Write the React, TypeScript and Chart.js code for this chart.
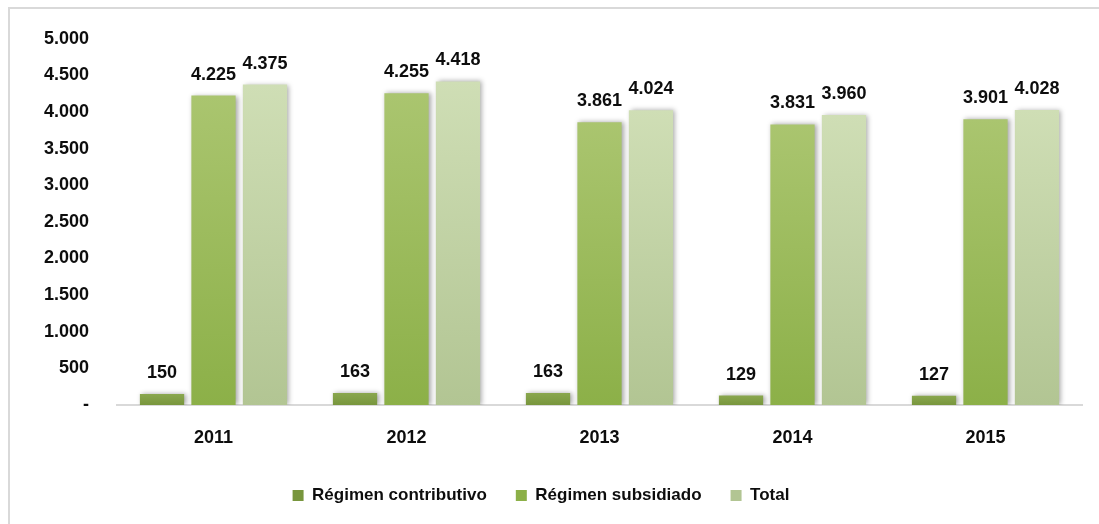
import React, { useEffect, useRef } from "react";
import { Chart, registerables } from "chart.js";

Chart.register(...registerables);

const categories = ["2011", "2012", "2013", "2014", "2015"];
const contributivo = [150, 163, 163, 129, 127];
const subsidiado = [4225, 4255, 3861, 3831, 3901];
const total = [4375, 4418, 4024, 3960, 4028];
const seriesNames = ["Régimen contributivo", "Régimen subsidiado", "Total"];
const yTicks = [0, 500, 1000, 1500, 2000, 2500, 3000, 3500, 4000, 4500, 5000];

const FONT = "'Liberation Sans', Arial, sans-serif";

function fmt(n: number): string {
  if (n === 0) return "-";
  const s = Math.round(n).toString();
  return s.replace(/\B(?=(\d{3})+(?!\d))/g, ".");
}

function barGradient(top: string, bottom: string) {
  return (ctx: any) => {
    const chart = ctx.chart;
    const area = chart.chartArea;
    if (!area || ctx.type !== "data") return bottom;
    const y = chart.scales.y;
    const v = ctx.raw as number;
    const y0 = y.getPixelForValue(v);
    const y1 = y.getPixelForValue(0);
    if (!isFinite(y0) || !isFinite(y1) || y0 === y1) return bottom;
    const g = chart.ctx.createLinearGradient(0, y0, 0, y1);
    g.addColorStop(0, top);
    g.addColorStop(1, bottom);
    return g;
  };
}

const shadowPlugin = {
  id: "barShadow",
  beforeDatasetDraw(chart: any) {
    const c = chart.ctx;
    c.save();
    c.shadowColor = "rgba(0,0,0,0.35)";
    c.shadowBlur = 5;
    c.shadowOffsetX = 2;
    c.shadowOffsetY = 0;
  },
  afterDatasetDraw(chart: any) {
    chart.ctx.restore();
  },
};

const labelPlugin = {
  id: "valueLabels",
  afterDatasetsDraw(chart: any) {
    const c = chart.ctx;
    c.save();
    c.font = `bold 18px ${FONT}`;
    c.fillStyle = "#0d0d0d";
    c.textAlign = "center";
    c.textBaseline = "middle";
    chart.data.datasets.forEach((ds: any, i: number) => {
      const meta = chart.getDatasetMeta(i);
      meta.data.forEach((bar: any, j: number) => {
        c.fillText(fmt(ds.data[j]), bar.x, bar.y - 21);
      });
    });
    c.restore();
  },
};

export default function App() {
  const ref = useRef<HTMLCanvasElement | null>(null);

  useEffect(() => {
    if (!ref.current) return;
    const chart = new Chart(ref.current, {
      type: "bar",
      data: {
        labels: categories,
        datasets: [
          {
            label: seriesNames[0],
            data: contributivo,
            backgroundColor: barGradient("#8aa74e", "#78963d"),
          },
          {
            label: seriesNames[1],
            data: subsidiado,
            backgroundColor: barGradient("#aac56f", "#8cb048"),
          },
          {
            label: seriesNames[2],
            data: total,
            backgroundColor: barGradient("#cfdeb5", "#b2c593"),
          },
        ],
      },
      plugins: [shadowPlugin, labelPlugin],
      options: {
        responsive: false,
        animation: false,
        events: [],
        layout: { padding: { top: 37, right: 17, left: 0, bottom: 10 } },
        datasets: {
          bar: { categoryPercentage: 0.8, barPercentage: 0.86 },
        },
        scales: {
          x: {
            grid: { display: false, drawTicks: false },
            border: { display: true, color: "#d9d9d9", width: 2 },
            ticks: {
              color: "#0d0d0d",
              font: { family: FONT, size: 18, weight: "bold" },
              padding: 22,
            },
            afterFit(scale: any) {
              scale.height = 53;
            },
          },
          y: {
            min: 0,
            max: 5000,
            afterBuildTicks(scale: any) {
              scale.ticks = yTicks.map((v) => ({ value: v }));
            },
            grid: { display: false, drawTicks: false },
            border: { display: false },
            ticks: {
              color: "#0d0d0d",
              font: { family: FONT, size: 18, weight: "bold" },
              padding: 28,
              callback: (v: any) => fmt(Number(v)),
            },
            afterFit(scale: any) {
              scale.width = 117;
            },
          },
        },
        plugins: {
          tooltip: { enabled: false },
          legend: {
            position: "bottom",
            labels: {
              boxWidth: 11,
              boxHeight: 11,
              padding: 29,
              color: "#0d0d0d",
              font: { family: FONT, size: 17, weight: "bold" },
            },
          },
        },
      },
    });
    return () => chart.destroy();
  }, []);

  return (
    <div>
      <div
        style={{
          position: "fixed",
          left: 8,
          top: 7,
          width: 1300,
          height: 700,
          borderTop: "2px solid #d9d9d9",
          borderLeft: "2px solid #d9d9d9",
          boxSizing: "border-box",
        }}
      />
      <canvas
        ref={ref}
        width={1099}
        height={524}
        style={{ position: "fixed", left: 0, top: 0, width: 1099, height: 524 }}
      />
    </div>
  );
}
